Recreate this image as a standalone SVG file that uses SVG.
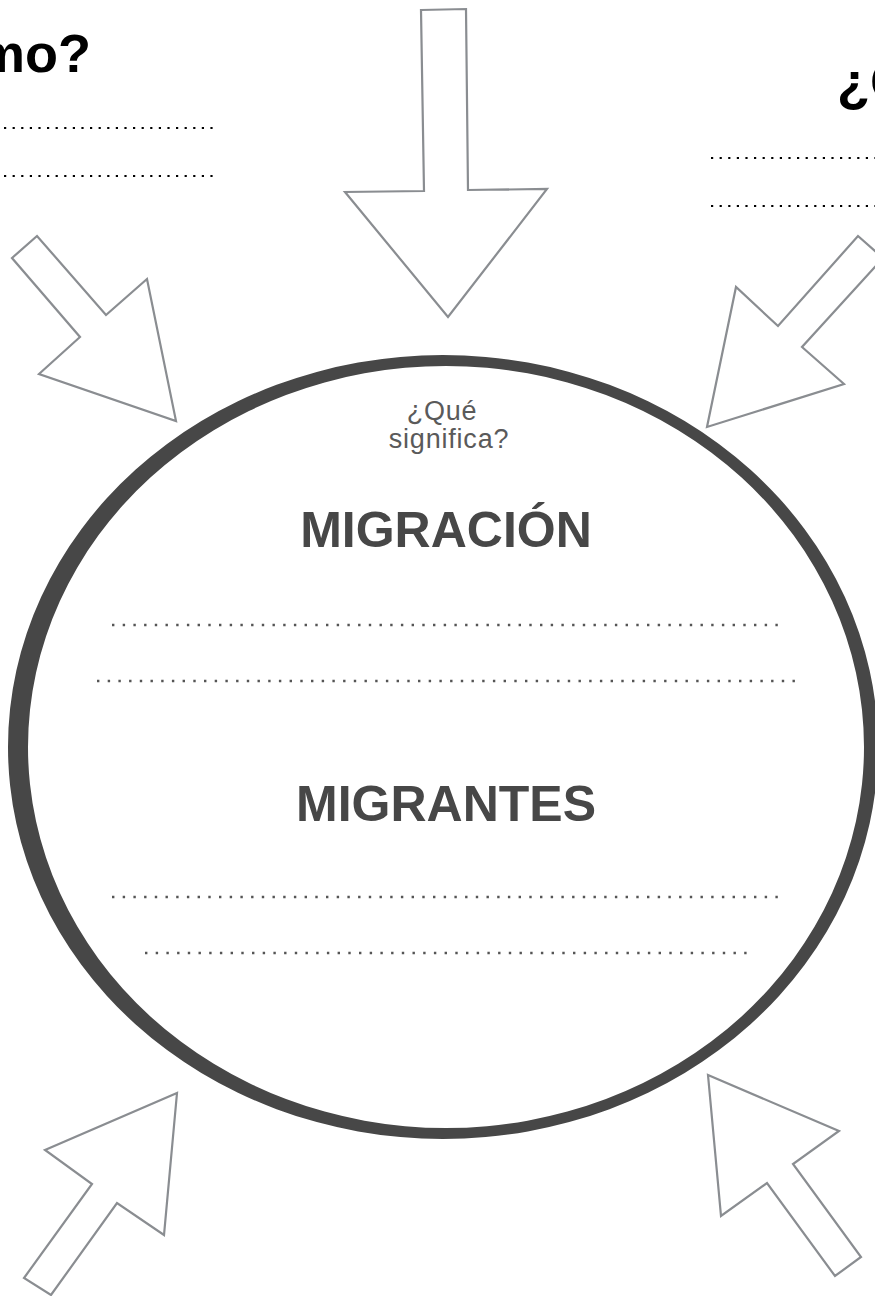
<svg xmlns="http://www.w3.org/2000/svg" width="875" height="1296" viewBox="0 0 875 1296">
<style>
.arrow{fill:#fff;stroke:#8a8d91;stroke-width:2.2;stroke-linejoin:miter}
.title{font-family:"Liberation Sans",Arial,sans-serif;font-weight:bold;font-size:54px;fill:#000}
.big{font-family:"Liberation Sans",Arial,sans-serif;font-weight:bold;font-size:50px;fill:#474747;text-anchor:middle}
.small{font-family:"Liberation Sans",Arial,sans-serif;font-size:27px;fill:#5a5a5a;text-anchor:middle;letter-spacing:0.8px}
.bdots{stroke:#000;stroke-width:2.2;stroke-dasharray:2.2 6.4;fill:none}
.gdots{stroke:#555;stroke-width:2.4;stroke-dasharray:2.4 8.3;fill:none}
</style>
<rect width="875" height="1296" fill="#fff"/>
<g id="title-left">
<text class="title" x="91" y="72" text-anchor="end">¿Cómo?</text>
<line class="bdots" x1="4" y1="128" x2="214" y2="128"/>
<line class="bdots" x1="4" y1="176" x2="214" y2="176"/>
</g>
<g id="title-right">
<text class="title" x="837" y="100">¿Cuándo?</text>
<line class="bdots" x1="711" y1="158" x2="875" y2="158"/>
<line class="bdots" x1="711" y1="206" x2="875" y2="206"/>
</g>
<g id="connectors">
<polygon id="arrow-top" class="arrow" points="421,10 466,9 468,190 547,189 448,317 345,192 424,191"/>
<polygon id="arrow-top-left" class="arrow" points="12,258 37,236 106,315 147,279 176,421 39,374 80,337"/>
<polygon id="arrow-top-right" class="arrow" points="858,236 883,258 802,347 844,384 707,427 736,287 778,326"/>
<polygon id="arrow-bottom-left" class="arrow" points="177,1093 164,1235 117,1203 51,1295 24,1278 92,1184 45,1150"/>
<polygon id="arrow-bottom-right" class="arrow" points="708,1075 839,1131 793,1164 861,1257 835,1276 767,1183 721,1216"/>
</g>
<g id="center">
<path fill="#474747" fill-rule="evenodd" d="M8,747 A435,392 0 1,0 878,747 A435,392 0 1,0 8,747 Z M28,747 A418,381 0 1,0 864,747 A418,381 0 1,0 28,747 Z"/>
<text class="small" x="442" y="420">¿Qué</text>
<text class="small" x="449" y="448">significa?</text>
<text class="big" x="446" y="547">MIGRACIÓN</text>
<line class="gdots" x1="112" y1="625" x2="778" y2="625"/>
<line class="gdots" x1="97" y1="681" x2="797" y2="681"/>
<text class="big" x="446" y="821">MIGRANTES</text>
<line class="gdots" x1="112" y1="897" x2="778" y2="897"/>
<line class="gdots" x1="145" y1="953" x2="748" y2="953"/>
</g>
</svg>
